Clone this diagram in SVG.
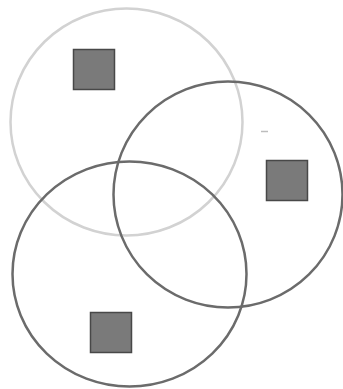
<svg xmlns="http://www.w3.org/2000/svg" width="343" height="389" viewBox="0 0 343 389">
<style>
.ring{fill:none;stroke-width:2.5}
.light{stroke:#d2d2d2}
.dark{stroke:#6b6b6b}
.sq{fill:#7a7a7a;stroke:#484848;stroke-width:1.5}
</style>
<rect width="343" height="389" fill="#ffffff"/>
<g id="circle-top"><ellipse class="ring light" cx="126.5" cy="122" rx="116" ry="113.5"/></g>
<g id="circle-right"><ellipse class="ring dark" cx="228" cy="194.5" rx="114.5" ry="113"/></g>
<g id="circle-bottom"><ellipse class="ring dark" cx="129.5" cy="274" rx="117" ry="112.5"/></g>
<g id="square-top"><rect class="sq" x="73.5" y="49.5" width="41" height="40"/></g>
<g id="square-right"><rect class="sq" x="266.5" y="160.5" width="41" height="40"/></g>
<g id="square-bottom"><rect class="sq" x="90.5" y="312.5" width="41" height="40"/></g>
<line x1="261" y1="131.5" x2="268" y2="131.5" stroke="#bdbdbd" stroke-width="1.5"/>
</svg>
